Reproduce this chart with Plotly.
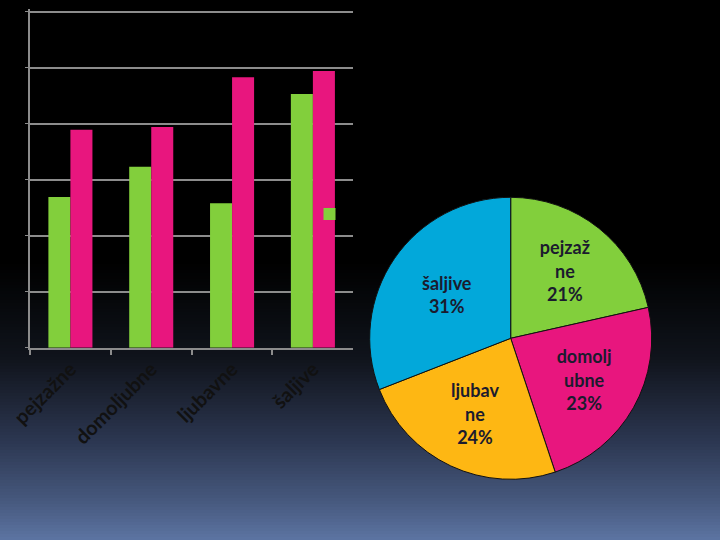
import plotly.graph_objects as go

# ---- data ----
categories = ["pejzažne", "domoljubne", "ljubavne", "šaljive"]
series_green = [2.69, 3.23, 2.58, 4.53]
series_pink = [3.89, 3.94, 4.83, 4.94]
pie_labels = ["pejzažne", "domoljubne", "ljubavne", "šaljive"]
pie_values = [6.58, 7.17, 7.41, 9.47]
pie_text = ["pejzaž<br>ne", "domolj<br>ubne", "ljubav<br>ne", "šaljive"]

GREEN = "#82CF3C"
PINK = "#E8167E"
BLUE = "#02A8DA"
ORANGE = "#FEB713"

W, H = 720, 540

fig = go.Figure()

fig.add_trace(go.Bar(x=categories, y=series_green, marker=dict(color=GREEN, line=dict(width=0)),
                     name=" ", showlegend=True))
fig.add_trace(go.Bar(x=categories, y=series_pink, marker=dict(color=PINK, line=dict(width=0)),
                     name=" ", showlegend=False))

fig.add_trace(go.Pie(
    labels=pie_labels, values=pie_values, text=pie_text,
    texttemplate="%{text}<br>%{percent:.0%}",
    textposition="inside", insidetextorientation="horizontal",
    sort=False, direction="clockwise", rotation=0,
    marker=dict(colors=[GREEN, PINK, ORANGE, BLUE], line=dict(color="#111111", width=1)),
    textfont=dict(family="Lato", size=18, color="#1b1b2e", weight="bold"),
    domain=dict(x=[369.7 / W, 651.7 / W], y=[60.7 / H, 342.7 / H]),
    showlegend=False, hoverinfo="label+percent",
))

# background gradient (black top -> slate blue bottom)
stops = [(0, (0, 0, 0)), (262, (0, 0, 0)), (360, (16, 20, 28)), (440, (43, 54, 80)),
         (500, (70, 88, 125)), (540, (92, 116, 162))]
shapes = []
step = 3
y = 0
while y < H:
    yc = y + step / 2
    for i in range(len(stops) - 1):
        y0, c0 = stops[i]
        y1, c1 = stops[i + 1]
        if y0 <= yc <= y1:
            t = (yc - y0) / (y1 - y0) if y1 > y0 else 0
            col = tuple(int(round(c0[k] + (c1[k] - c0[k]) * t)) for k in range(3))
            break
    shapes.append(dict(type="rect", xref="paper", yref="paper", x0=0, x1=1,
                       y0=1 - (y + step) / H, y1=1 - y / H, fillcolor="rgb(%d,%d,%d)" % col,
                       line=dict(width=0), layer="below"))
    y += step

YMAX = 6.05
px_per_unit = (347.7 - 11.7) / 6
top_px = 347.7 - YMAX * px_per_unit

fig.update_layout(
    width=W, height=H,
    margin=dict(l=0, r=0, t=0, b=0, autoexpand=False),
    paper_bgcolor="black",
    plot_bgcolor="black",
    shapes=shapes,
    barmode="group",
    bargap=0.455,
    bargroupgap=0,
    font=dict(family="Lato", color="#111111"),
    showlegend=True,
    legend=dict(x=(329.5 - 20) / W, y=1 - 214 / H, xanchor="left", yanchor="middle",
                bgcolor="rgba(0,0,0,0)", font=dict(size=10, color="#111111")),
    xaxis=dict(domain=[30 / W, 353.3 / W], showgrid=False, showline=True, automargin=False,
               linecolor="#8c8c8c", linewidth=2, ticks="outside", tickson="boundaries",
               ticklen=5, tickwidth=2, tickcolor="#8c8c8c", tickangle=-45,
               tickfont=dict(family="Lato", size=20, color="#111111", weight="bold")),
    yaxis=dict(domain=[1 - 347.7 / H, 1 - top_px / H], range=[0, YMAX], dtick=1, automargin=False,
               showgrid=True, gridcolor="#8c8c8c", gridwidth=2, showline=True,
               linecolor="#8c8c8c", linewidth=2, ticks="outside", ticklen=3,
               tickcolor="#8c8c8c", showticklabels=False, zeroline=False),
)

fig.write_html("out.html")
